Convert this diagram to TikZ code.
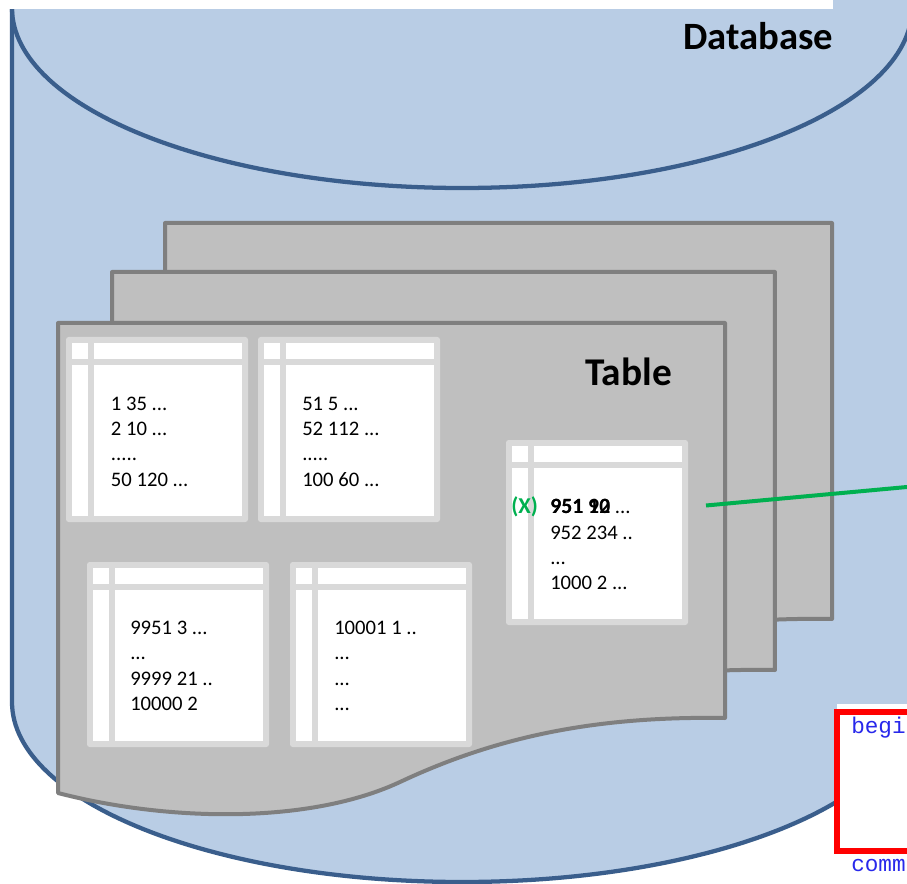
\documentclass[tikz,border=0pt]{standalone}
\usepackage{fontspec}
\setmainfont{Carlito}
\newfontfamily\codefont{Liberation Mono}

\definecolor{dbfill}{HTML}{B9CDE5}
\definecolor{dbline}{HTML}{3A5E8C}
\definecolor{pagefill}{HTML}{BFBFBF}
\definecolor{pageline}{HTML}{7F7F7F}
\definecolor{tabgrid}{HTML}{D9D9D9}
\definecolor{linkgreen}{HTML}{00B050}
\definecolor{codeblue}{RGB}{40,40,235}

% one "document" sheet: #1,#2 top-left corner, #3 width, #4 extra height
\newcommand\docsheet[4]{%
  \begin{scope}[shift={(#1,#2)}, xscale=#3/667]
    \draw[sheet] (0,0) -- (667,0) -- (667,395+#4)
      .. controls (542,393+#4) and (442,412+#4) .. (342,459+#4)
      .. controls (252,501+#4) and (112,499+#4) .. (0,470+#4) -- cycle;
  \end{scope}}

% a small grid table: #1 name, #2,#3 top-left corner
\newcommand\gridtable[3]{%
  \node[tabframe, anchor=north west] (#1) at (#2,#3) {};
  \fill[white] ([shift={(6,6)}]#1.north west) rectangle ([shift={(22,22)}]#1.north west);
  \fill[white] ([shift={(28,6)}]#1.north west) rectangle ([shift={(176,22)}]#1.north west);
  \fill[white] ([shift={(6,28)}]#1.north west) rectangle ([shift={(22,179)}]#1.north west);
  \fill[white] ([shift={(28,28)}]#1.north west) rectangle ([shift={(176,179)}]#1.north west);}

\begin{document}
\begin{tikzpicture}[x=0.75pt, y=-0.75pt,
  sheet/.style={draw=pageline, fill=pagefill, line width=3pt, line join=round},
  tabframe/.style={rectangle, fill=tabgrid, rounded corners=2pt, inner sep=0pt, outer sep=0pt,
    minimum width=136.5pt, minimum height=138.75pt},
  celltext/.style={anchor=base west, inner sep=0pt, font=\fontsize{15.5}{19}\selectfont},
  boldtext/.style={anchor=base west, inner sep=0pt, font=\fontsize{16.3}{19}\selectfont\bfseries},
  titletext/.style={anchor=base west, inner sep=0pt},
  codetext/.style={anchor=base west, inner sep=0pt, text=codeblue, font=\codefont\fontsize{17}{20}\selectfont},
  link/.style={draw=linkgreen, line width=3pt}]

\useasboundingbox (0,0) rectangle (907,884);
\fill[white] (0,0) rectangle (907,884);

% database cylinder
\fill[dbfill] (12,8) -- (12,702)
  arc[start angle=180, end angle=0, x radius=450, y radius=180] -- (912,8)
  arc[start angle=0, end angle=-180, x radius=450, y radius=180] -- cycle;
\draw[dbline, line width=3.2pt] (12,8) -- (12,702)
  arc[start angle=180, end angle=0, x radius=450, y radius=180] -- (912,8);
\draw[dbline, line width=3.2pt] (462,8) ellipse[x radius=450, y radius=180];
\fill[white] (0,0) rectangle (833,8.7);
\node[titletext, font=\fontsize{29}{33}\selectfont\bfseries] (dbtitle) at (683,49.5) {Database};

% stacked table sheets
\docsheet{165}{223}{667}{1}
\docsheet{112}{272}{663}{3}
\docsheet{58}{323}{667}{0}
\node[titletext, font=\fontsize{29.5}{33}\selectfont\bfseries] (tbtitle) at (585,385) {Table};

% pages of the table
\gridtable{pA}{66}{337}
\gridtable{pB}{258}{337}
\gridtable{pC}{87}{562}
\gridtable{pD}{290}{562}
\gridtable{pE}{506}{440}

\node[celltext] (pA1) at (110.7,410) {1 35 ...};
\node[celltext] (pA2) at (110.7,435.3) {2 10 ...};
\node[celltext] (pA3) at (110.7,460.6) {.....};
\node[celltext] (pA4) at (110.7,486) {50 120 ...};

\node[celltext] (pB1) at (302,410) {51 5 ...};
\node[celltext] (pB2) at (302,435.3) {52 112 ...};
\node[celltext] (pB3) at (302,460.6) {.....};
\node[celltext] (pB4) at (302,486) {100 60 ...};

\node[celltext] (pC1) at (130,634) {9951 3 ...};
\node[celltext] (pC2) at (130,659) {...};
\node[celltext] (pC3) at (130,685) {9999 21 ..};
\node[celltext] (pC4) at (130,710) {10000 2};

\node[celltext] (pD1) at (334,634) {10001 1 ..};
\node[celltext] (pD2) at (334,659) {...};
\node[celltext] (pD3) at (334,685) {...};
\node[celltext] (pD4) at (334,710) {...};

% two values written over each other in the first row
\node[boldtext] (pE1) at (550,513) {951 10\normalfont\fontsize{15.5}{19}\selectfont{} ...};
\node[boldtext] (pE1b) at (550,513) {951 92};
\node[celltext] (pE2) at (550,539) {952 234 ..};
\node[celltext] (pE3) at (550,564) {...};
\node[celltext] (pE4) at (550,589) {1000 2 ...};
\node[boldtext, text=linkgreen, font=\fontsize{17}{19}\selectfont\bfseries] (mark) at (511,513) {(X)};

% link leaving the marked row
\coordinate (linkend) at (907,487);
\draw[link] ([shift={(18,-27)}]pE.east) -- (linkend);

% code box at the lower right
\fill[white] (837,704) rectangle (910,884);
\draw[red, line width=4.2pt] (837,712) rectangle (916,851);
\node[codetext] (code1) at (851,733) {begi};
\node[codetext] (code2) at (851,871) {comm};
\end{tikzpicture}
\end{document}
